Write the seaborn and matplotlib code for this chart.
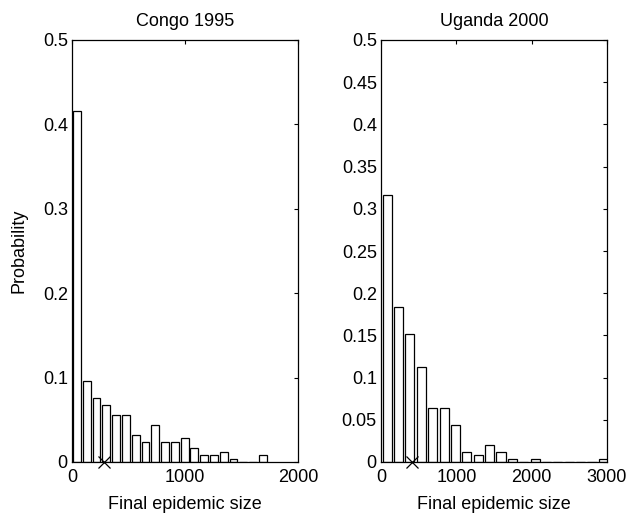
import numpy as np
import pandas as pd
import matplotlib
matplotlib.use("Agg")
import matplotlib.pyplot as plt
import seaborn as sns

# histogram bin probabilities (20 bins each)
congo_prob = [0.416, 0.096, 0.076, 0.068, 0.056, 0.056, 0.032, 0.024, 0.044, 0.024,
              0.024, 0.028, 0.016, 0.008, 0.008, 0.012, 0.004, 0.0, 0.0, 0.008]
uganda_prob = [0.316, 0.184, 0.152, 0.112, 0.064, 0.064, 0.044, 0.012, 0.008, 0.020,
               0.012, 0.004, 0.0, 0.004, 0.0, 0.0, 0.0, 0.0, 0.0, 0.004]

# bin ranges (min, max of simulated sizes)
congo_range = (0, 1732)
uganda_range = (6.5, 3026.5)

# observed final sizes (x markers)
congo_obs = [286]
uganda_obs = [417]

titles = ["Congo 1995", "Uganda 2000"]
xticks = [[0, 1000, 2000], [0, 1000, 2000, 3000]]
xlims = [(0, 2000), (0, 3000)]
yticks = [[0, 0.1, 0.2, 0.3, 0.4, 0.5],
          [0, 0.05, 0.1, 0.15, 0.2, 0.25, 0.3, 0.35, 0.4, 0.45, 0.5]]
ytick_labels = [["0", "0.1", "0.2", "0.3", "0.4", "0.5"],
                ["0", "0.05", "0.1", "0.15", "0.2", "0.25", "0.3", "0.35", "0.4", "0.45", "0.5"]]

sns.set_style("white")
plt.rcParams["font.family"] = ["Liberation Sans", "DejaVu Sans"]
plt.rcParams["font.size"] = 13
plt.rcParams["text.color"] = "black"
plt.rcParams["axes.labelcolor"] = "black"

fig = plt.figure(figsize=(6.31, 5.2), dpi=100)
ax1 = fig.add_axes([72 / 631, 58 / 520, 226 / 631, 422 / 520])
ax2 = fig.add_axes([381 / 631, 58 / 520, 226 / 631, 422 / 520])

panels = [(ax1, congo_prob, congo_range, congo_obs),
          (ax2, uganda_prob, uganda_range, uganda_obs)]

for i, (ax, prob, rng, obs) in enumerate(panels):
    width = (rng[1] - rng[0]) / len(prob)
    centers = [rng[0] + width * (k + 0.5) for k in range(len(prob))]
    df = pd.DataFrame({"size": centers, "p": prob})
    sns.histplot(data=df, x="size", weights="p", binwidth=width,
                 binrange=(rng[0], rng[1] + width * 0.01), shrink=0.8,
                 color="white", edgecolor="black", linewidth=0.9, alpha=1, ax=ax)
    ax.plot(obs, [0] * len(obs), marker="x", color="black", linestyle="none",
            markersize=8, mew=0.9, clip_on=False, zorder=5)
    ax.set_xlim(*xlims[i])
    ax.set_ylim(0, 0.5)
    ax.set_xticks(xticks[i])
    ax.set_yticks(yticks[i])
    ax.set_yticklabels(ytick_labels[i])
    ax.tick_params(direction="in", top=True, right=True, length=3, width=0.8,
                   labelsize=13, colors="black")
    ax.tick_params(axis="y", pad=3)
    ax.tick_params(axis="x", pad=5)
    for s in ax.spines.values():
        s.set_color("black")
        s.set_linewidth(0.9)
    ax.set_title(titles[i], fontsize=13, pad=10, color="black")
    ax.set_xlabel("Final epidemic size", fontsize=13, labelpad=7, color="black")
    ax.set_ylabel("")

ax1.set_ylabel("Probability", fontsize=13, labelpad=11, color="black")

fig.savefig("out.png", dpi=100)
